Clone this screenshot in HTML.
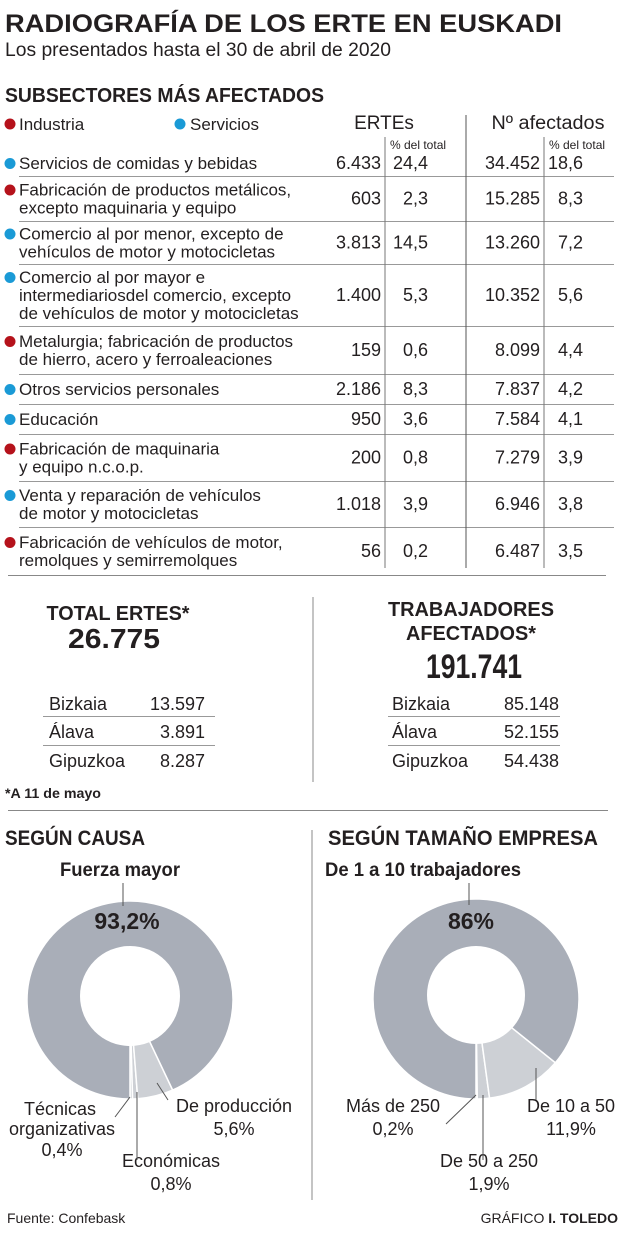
<!DOCTYPE html>
<html><head><meta charset="utf-8">
<style>
html,body{margin:0;padding:0;background:#fff;}
svg{display:block;font-family:"Liberation Sans",sans-serif;}
.n{font-size:17px;fill:#231f20;}
.b{font-weight:bold;fill:#231f20;}
</style></head>
<body>
<svg id="s" width="624" height="1238" viewBox="0 0 624 1238">
<text x="5" y="32" class="b" font-size="25" textLength="557" lengthAdjust="spacingAndGlyphs">RADIOGRAFÍA DE LOS ERTE EN EUSKADI</text>
<text x="5" y="56" font-size="19" fill="#231f20" textLength="386" lengthAdjust="spacingAndGlyphs">Los presentados hasta el 30 de abril de 2020</text>
<text x="5" y="102" class="b" font-size="20" textLength="319" lengthAdjust="spacingAndGlyphs">SUBSECTORES MÁS AFECTADOS</text>
<circle cx="10" cy="124" r="5.5" fill="#b5121b"/>
<text x="19" y="130" class="n">Industria</text>
<circle cx="180" cy="124" r="5.5" fill="#1a9ad6"/>
<text x="190" y="130" class="n">Servicios</text>
<text x="384" y="129" text-anchor="middle" font-size="19" fill="#231f20">ERTEs</text>
<text x="548" y="129" text-anchor="middle" font-size="19" fill="#231f20" textLength="113" lengthAdjust="spacingAndGlyphs">Nº afectados</text>
<text x="390" y="149" font-size="12" fill="#231f20">% del total</text>
<text x="549" y="149" font-size="12" fill="#231f20">% del total</text>
<g id="table"></g>
<line x1="466" y1="115" x2="466" y2="568" stroke="#555" stroke-width="1"/>
<line x1="385" y1="137" x2="385" y2="568" stroke="#777" stroke-width="1"/>
<line x1="544" y1="137" x2="544" y2="568" stroke="#777" stroke-width="1"/>
<line x1="8" y1="575.5" x2="606" y2="575.5" stroke="#888" stroke-width="1"/>

<text x="118" y="620" text-anchor="middle" class="b" font-size="20" textLength="143" lengthAdjust="spacingAndGlyphs">TOTAL ERTES*</text>
<text x="114" y="648" text-anchor="middle" class="b" font-size="28" textLength="92" lengthAdjust="spacingAndGlyphs">26.775</text>
<g id="lt"></g>
<line x1="313" y1="597" x2="313" y2="782" stroke="#888" stroke-width="1"/>
<text x="471" y="616" text-anchor="middle" class="b" font-size="20" textLength="166" lengthAdjust="spacingAndGlyphs">TRABAJADORES</text>
<text x="471" y="640" text-anchor="middle" class="b" font-size="20" textLength="130" lengthAdjust="spacingAndGlyphs">AFECTADOS*</text>
<text x="474" y="678" text-anchor="middle" class="b" font-size="34" textLength="96" lengthAdjust="spacingAndGlyphs">191.741</text>
<text x="5" y="798" class="b" font-size="14" textLength="96" lengthAdjust="spacingAndGlyphs">*A 11 de mayo</text>
<line x1="8" y1="810.5" x2="608" y2="810.5" stroke="#888" stroke-width="1"/>

<text x="5" y="845" class="b" font-size="21" textLength="140" lengthAdjust="spacingAndGlyphs">SEGÚN CAUSA</text>
<text x="328" y="845" class="b" font-size="21" textLength="270" lengthAdjust="spacingAndGlyphs">SEGÚN TAMAÑO EMPRESA</text>
<line x1="312" y1="830" x2="312" y2="1200" stroke="#888" stroke-width="1"/>
<g id="d1"></g>
<g id="d2"></g>

<text x="120" y="876" text-anchor="middle" class="b" font-size="19" textLength="120" lengthAdjust="spacingAndGlyphs">Fuerza mayor</text>
<line x1="123" y1="883" x2="123" y2="906" stroke="#555"/>
<text x="127" y="929" text-anchor="middle" class="b" font-size="23">93,2%</text>
<g font-size="18" fill="#231f20" text-anchor="middle">
<text x="60" y="1115">Técnicas</text>
<text x="62" y="1135">organizativas</text>
<text x="62" y="1156">0,4%</text>
<text x="171" y="1167">Económicas</text>
<text x="171" y="1190">0,8%</text>
<text x="234" y="1112">De producción</text>
<text x="234" y="1135">5,6%</text>
<text x="393" y="1112">Más de 250</text>
<text x="393" y="1135">0,2%</text>
<text x="489" y="1167">De 50 a 250</text>
<text x="489" y="1190">1,9%</text>
<text x="571" y="1112">De 10 a 50</text>
<text x="571" y="1135">11,9%</text>
</g>
<g stroke="#555" stroke-width="1">
<line x1="115" y1="1117" x2="130" y2="1097"/>
<line x1="137" y1="1092" x2="137" y2="1160"/>
<line x1="157" y1="1083" x2="168" y2="1100"/>
<line x1="446" y1="1124" x2="476" y2="1095"/>
<line x1="483" y1="1095" x2="483" y2="1160"/>
<line x1="536" y1="1068" x2="536" y2="1100"/>
<line x1="469" y1="883" x2="469" y2="905"/>
</g>
<text x="423" y="876" text-anchor="middle" class="b" font-size="19" textLength="196" lengthAdjust="spacingAndGlyphs">De 1 a 10 trabajadores</text>
<text x="471" y="929" text-anchor="middle" class="b" font-size="23">86%</text>
<text x="7" y="1223" font-size="14" fill="#231f20">Fuente: Confebask</text>
<text x="618" y="1223" text-anchor="end" font-size="14" fill="#231f20">GRÁFICO <tspan font-weight="bold">I. TOLEDO</tspan></text>
</svg>
<script>
const rowNames=[["Servicios de comidas y bebidas"],["Fabricación de productos metálicos,","excepto maquinaria y equipo"],["Comercio al por menor, excepto de","vehículos de motor y motocicletas"],["Comercio al por mayor e","intermediariosdel comercio, excepto","de vehículos de motor y motocicletas"],["Metalurgia; fabricación de productos","de hierro, acero y ferroaleaciones"],["Otros servicios personales"],["Educación"],["Fabricación de maquinaria","y equipo n.c.o.p."],["Venta y reparación de vehículos","de motor y motocicletas"],["Fabricación de vehículos de motor,","remolques y semirremolques"]];
const rowSector=["s","i","s","s","i","s","s","i","s","i"];
const ertes=["6.433","603","3.813","1.400","159","2.186","950","200","1.018","56"];
const ertesPct=["24,4","2,3","14,5","5,3","0,6","8,3","3,6","0,8","3,9","0,2"];
const afect=["34.452","15.285","13.260","10.352","8.099","7.837","7.584","7.279","6.946","6.487"];
const afectPct=["18,6","8,3","7,2","5,6","4,4","4,2","4,1","3,9","3,8","3,5"];
const provinces=["Bizkaia","Álava","Gipuzkoa"];
const provErtes=["13.597","3.891","8.287"];
const provAfect=["85.148","52.155","54.438"];
const causaLabels=["Técnicas organizativas","Económicas","De producción","Fuerza mayor"];
const causaValues=[0.4,0.8,5.6,93.2];
const tamLabels=["Más de 250","De 50 a 250","De 10 a 50","De 1 a 10"];
const tamValues=[0.2,1.9,11.9,86];

const NS="http://www.w3.org/2000/svg";
function mk(tag,attrs,parent,txt){const e=document.createElementNS(NS,tag);for(const k in attrs)e.setAttribute(k,attrs[k]);if(txt!==undefined)e.textContent=txt;parent.appendChild(e);return e;}
const tbl=document.getElementById('table');
const rowTop=[150,176,221,264,326,374,404,434,481,527];
const rowBottom=[176,221,264,326,374,404,434,481,527,575];
rowNames.forEach((lines,i)=>{
  const top=rowTop[i],bot=rowBottom[i];
  const mid=(top+bot)/2;
  const first=mid-(lines.length-1)*9+6;
  const dot=mk('circle',{cx:10,cy:first-5.5,r:5.5,fill:rowSector[i]==='i'?'#b5121b':'#1a9ad6'},tbl);
  
  
  lines.forEach((l,j)=>{
    const t=mk('text',{x:19,y:first+j*18,class:'n'},tbl,l);
    
    
  });
  const ny=mid+6;
  const cols=[[381,ertes[i]],[428,ertesPct[i]],[540,afect[i]],[583,afectPct[i]]];
  cols.forEach(c=>{
    const t=mk('text',{x:c[0],y:ny,'text-anchor':'end','font-size':18,fill:'#231f20'},tbl,c[1]);
    
    
  });
  if(i<rowNames.length-1){
    const ln=mk('line',{x1:19,y1:bot+0.5,x2:614,y2:bot+0.5,stroke:'#999','stroke-width':1},tbl);
    
    
  }
});
const lt=document.getElementById('lt');
const provY=[710,738,767];
provinces.forEach((p,i)=>{
  [[49,'start',p],[205,'end',provErtes[i]],[392,'start',p],[559,'end',provAfect[i]]].forEach(c=>{
    const t=mk('text',{x:c[0],y:provY[i],'text-anchor':c[1],'font-size':18,fill:'#231f20'},lt,c[2]);
    
    
  });
});
[716,745].forEach(y=>{
  [[43,215],[388,560]].forEach(r=>{
    const ln=mk('line',{x1:r[0],y1:y+0.5,x2:r[1],y2:y+0.5,stroke:'#999','stroke-width':1},lt);
    
    
  });
});
function donut(g,values,labels,cx,cy,rx,ry,icx,icy,ir){
  const tot=values.reduce((a,b)=>a+b,0);let acc=0;
  values.forEach((v,i)=>{
    const a0=acc/tot*2*Math.PI;acc+=v;const a1=acc/tot*2*Math.PI;
    const p=(a)=>[cx+rx*Math.sin(a),cy+ry*Math.cos(a)];
    const s=p(a0),e=p(a1);const large=(a1-a0)>Math.PI?1:0;
    const d=`M${cx},${cy} L${s[0]},${s[1]} A${rx},${ry} 0 ${large} 0 ${e[0]},${e[1]} Z`;
    const big=i===values.length-1;
    const path=mk('path',{d:d,fill:big?'#a9aeb8':'#cdd0d5',stroke:'#fff','stroke-width':1.5},g);
    
    
  });
  const hole=mk('ellipse',{cx:icx,cy:icy,rx:ir,ry:ir,fill:'#fff'},g);
  
  
}
donut(document.getElementById('d1'),causaValues,causaLabels,130,1000,103,99,130,996,50);
donut(document.getElementById('d2'),tamValues,tamLabels,476,999,103,100,476,995,49);
</script>
</body></html>
